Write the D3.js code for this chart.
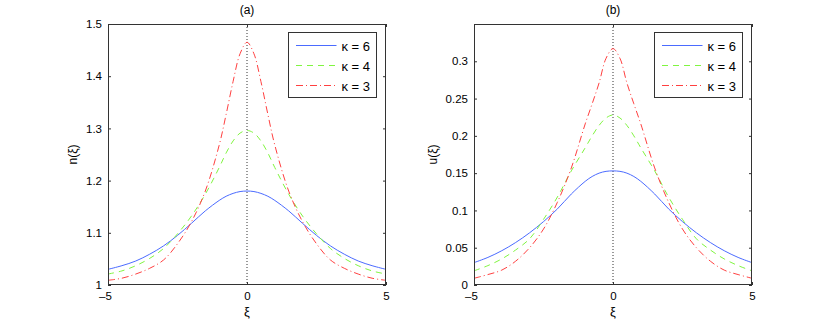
<!DOCTYPE html>
<html><head><meta charset="utf-8">
<script src="https://cdn.jsdelivr.net/npm/d3@7"></script>
<style>body{margin:0;background:#fff}text{font-family:"Liberation Sans",Arial,sans-serif}</style>
</head><body>
<svg id="c" width="830" height="322"></svg>
<script>
// ---------- data ----------
const xi = [-5,-4.5,-4,-3.5,-3,-2.5,-2,-1.5,-1,-0.75,-0.5,-0.25,0,0.25,0.5,0.75,1,1.5,2,2.5,3,3.5,4,4.5,5];
const nK6 = [1.030,1.037,1.046,1.059,1.075,1.095,1.118,1.142,1.162,1.170,1.1755,1.179,1.180,1.179,1.1755,1.170,1.162,1.142,1.118,1.095,1.075,1.059,1.046,1.037,1.030];
const nK4 = [1.021,1.027,1.037,1.051,1.070,1.098,1.132,1.174,1.225,1.253,1.276,1.291,1.296,1.291,1.276,1.253,1.225,1.174,1.132,1.098,1.070,1.051,1.037,1.027,1.021];
const nK3 = [1.009,1.013,1.021,1.032,1.048,1.079,1.121,1.180,1.268,1.327,1.390,1.443,1.465,1.443,1.390,1.327,1.268,1.180,1.121,1.079,1.048,1.032,1.021,1.013,1.009];
const uK6 = [0.030,0.037,0.046,0.057,0.070,0.085,0.102,0.122,0.139,0.1455,0.150,0.1524,0.153,0.1524,0.150,0.1455,0.139,0.122,0.102,0.085,0.070,0.057,0.046,0.037,0.030];
const uK4 = [0.019,0.026,0.035,0.047,0.062,0.088,0.118,0.153,0.184,0.200,0.214,0.224,0.228,0.224,0.214,0.200,0.184,0.153,0.118,0.088,0.062,0.047,0.035,0.026,0.019];
const uK3 = [0.009,0.014,0.020,0.032,0.050,0.075,0.111,0.157,0.216,0.243,0.271,0.304,0.317,0.304,0.271,0.243,0.216,0.157,0.111,0.075,0.050,0.032,0.020,0.014,0.009];
const seriesNames = ["κ = 6","κ = 4","κ = 3"];
const xTicks = [-5,0,5];
const nTicks = [1,1.1,1.2,1.3,1.4,1.5];
const uTicks = [0,0.05,0.1,0.15,0.2,0.25,0.3];

// ---------- style ----------
const colors = ["#4b6bff","#80f540","#ff4040"];
const dashes = [null,"6,5","7,3,1,3"];
const svg = d3.select("#c");
const yTop = 24, yBot = 285, W = 278;

function panel(left, yDomain, yTicks, series, title, ylab, ylabX, fmt){
  const x = d3.scaleLinear().domain([-5,5]).range([left, left+W]);
  const y = d3.scaleLinear().domain(yDomain).range([yBot, yTop]);
  const g = svg.append("g");
  g.append("line").attr("x1",x(0)).attr("x2",x(0)).attr("y1",yTop).attr("y2",yBot)
    .attr("stroke","#333").attr("stroke-width",1).attr("stroke-dasharray","1,2");
  const line = d3.line().x((d,i)=>x(xi[i])).y(d=>y(d)).curve(d3.curveCatmullRom.alpha(0.5));
  series.forEach((s,k)=>{
    g.append("path").attr("d",line(s)).attr("fill","none").attr("stroke",colors[k])
      .attr("stroke-width",1).attr("stroke-dasharray",dashes[k]);
  });
  g.append("rect").attr("x",left+0.5).attr("y",yTop+0.5).attr("width",W-1).attr("height",yBot-yTop-1)
    .attr("fill","none").attr("stroke","#333").attr("stroke-width",1);
  const ax = g.append("g").attr("transform",`translate(0,${yBot})`)
    .call(d3.axisBottom(x).tickValues(xTicks).tickSizeInner(-3).tickSizeOuter(0)
      .tickFormat(d=> d<0 ? "–"+Math.abs(d) : String(d)));
  ax.select(".domain").remove();
  ax.selectAll("text").attr("font-size",11.5).attr("fill","#000").attr("y",15).attr("dy",0)
    .each(function(d){ if(d<0) d3.select(this).attr("text-anchor","end").attr("dx",3.3); });
  const axT = g.append("g").attr("transform",`translate(0,${yTop})`)
    .call(d3.axisTop(x).tickValues(xTicks).tickSizeInner(-3).tickSizeOuter(0).tickFormat(""));
  axT.select(".domain").remove();
  const ay = g.append("g").attr("transform",`translate(${left},0)`)
    .call(d3.axisLeft(y).tickValues(yTicks).tickSizeInner(-3).tickSizeOuter(0).tickPadding(6).tickFormat(fmt));
  ay.select(".domain").remove();
  ay.selectAll("text").attr("font-size",11.5).attr("fill","#000");
  const ayR = g.append("g").attr("transform",`translate(${left+W},0)`)
    .call(d3.axisRight(y).tickValues(yTicks).tickSizeInner(-3).tickSizeOuter(0).tickFormat(""));
  ayR.select(".domain").remove();
  g.selectAll(".tick line").attr("stroke","#333");
  g.append("text").attr("x",x(0)).attr("y",14).attr("text-anchor","middle").attr("font-size",12).text(title);
  g.append("text").attr("x",x(0)).attr("y",316).attr("text-anchor","middle").attr("font-size",13).text("ξ");
  g.append("text").attr("transform",`translate(${ylabX},${(yTop+yBot)/2}) rotate(-90)`)
    .attr("text-anchor","middle").attr("font-size",12).text(ylab);
  const lx = left+180.5, ly = 32.5;
  const lg = g.append("g");
  lg.append("rect").attr("x",lx).attr("y",ly).attr("width",88).attr("height",65)
    .attr("fill","#fff").attr("stroke","#333").attr("stroke-width",1);
  seriesNames.forEach((nm,k)=>{
    const yy = 45.5 + k*20;
    lg.append("line").attr("x1",lx+7.5).attr("x2",lx+48).attr("y1",yy).attr("y2",yy)
      .attr("stroke",colors[k]).attr("stroke-width",1).attr("stroke-dasharray",dashes[k]);
    lg.append("text").attr("x",lx+53).attr("y",yy+5).attr("font-size",13).text(nm);
  });
}

panel(108,[1,1.5],nTicks,[nK6,nK4,nK3],"(a)","n(ξ)",77,d=>d===1?"1":d3.format(".1f")(d));
panel(474,[0,0.35],uTicks,[uK6,uK4,uK3],"(b)","u(ξ)",436.5,d=>d===0?"0":String(+d.toFixed(2)));
</script>
</body></html>
